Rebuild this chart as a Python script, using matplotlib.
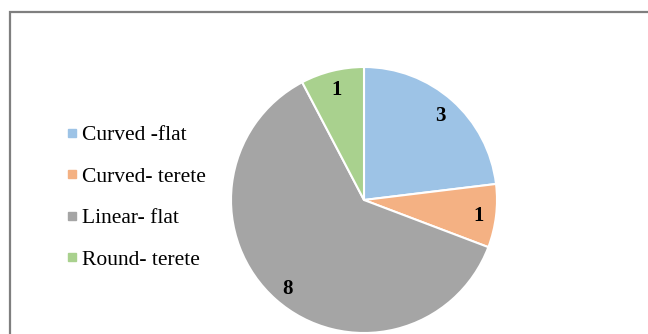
import matplotlib.pyplot as plt
from matplotlib.lines import Line2D
from matplotlib.patches import Rectangle

categories = ["Curved -flat", "Curved- terete", "Linear- flat", "Round- terete"]
counts = [3, 1, 8, 1]
colors = ["#9DC3E6", "#F4B183", "#A5A5A5", "#A9D18E"]

W, H = 648, 334
fig = plt.figure(figsize=(W / 100, H / 100), dpi=100)
plt.rcParams['font.family'] = ['Liberation Serif', 'DejaVu Serif']

# chart border (runs off right/bottom edge like the reference crop)
fig.patches.append(Rectangle((9.5 / W, -0.1), 1.2, (H - 11.5) / H + 0.1,
                             transform=fig.transFigure, fill=False,
                             edgecolor="#7f7f7f", linewidth=1.6))

# pie: centre (364, 200) px, radius 133 px
r = 133
cx, cy = 364, 200
ax = fig.add_axes([(cx - r) / W, (H - cy - r) / H, 2 * r / W, 2 * r / H])
wedges, texts = ax.pie(counts, colors=colors, startangle=90, counterclock=False,
                       labels=[str(c) for c in counts], labeldistance=0.87,
                       wedgeprops=dict(edgecolor="white", linewidth=1.5),
                       textprops=dict(fontsize=15, fontweight="bold", color="black",
                                      ha="center", va="center_baseline"))
ax.set_xlim(-1, 1)
ax.set_ylim(-1, 1)
ax.set_aspect("equal")
ax.axis("off")

handles = [Line2D([], [], marker="s", linestyle="none", markersize=5.5,
                  markerfacecolor=c, markeredgecolor=c) for c in colors]
fig.legend(handles, categories, loc="center left",
           bbox_to_anchor=(55 / W, (H - 197.5) / H), frameon=False,
           fontsize=15.5, handlelength=0.6, handletextpad=0.15,
           labelspacing=1.0, borderpad=0)

fig.savefig("out.png", dpi=100)
